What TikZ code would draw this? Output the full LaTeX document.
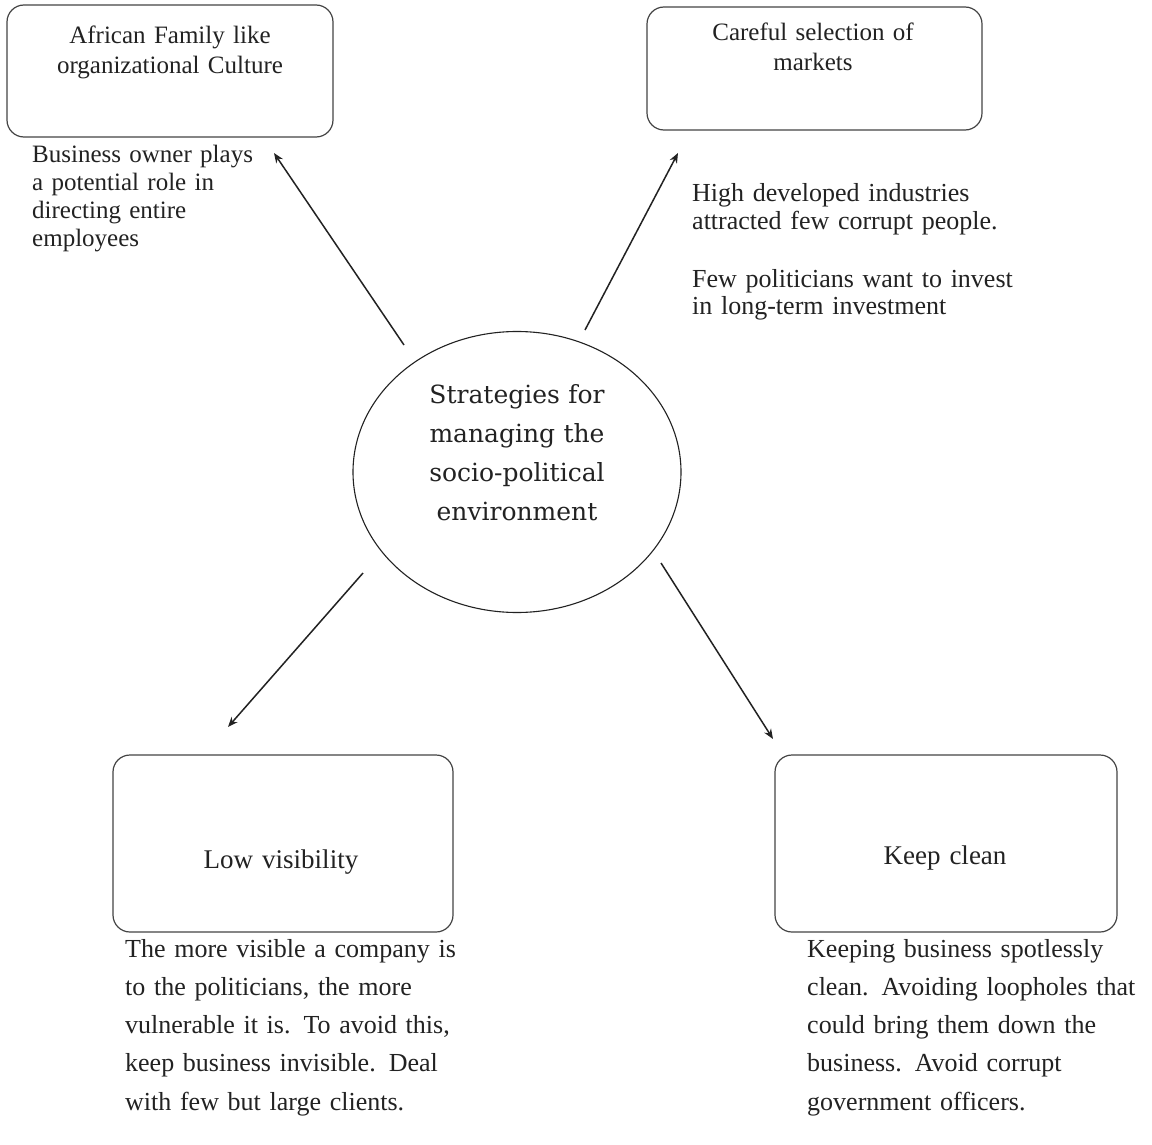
\documentclass[tikz,border=0pt]{standalone}
\usepackage{fontspec}
\setmainfont{Liberation Serif}
\newfontfamily\circfont{DejaVu Serif}
\usetikzlibrary{shapes.geometric,arrows.meta,fit}
\definecolor{ink}{HTML}{222222}
\definecolor{boxink}{HTML}{444444}
\begin{document}
\begin{tikzpicture}[x=1pt,y=-1pt,
  box/.style={draw=boxink, line width=1.2pt, rounded corners=17pt, inner sep=0pt},
  boxtxt/.style={text=ink, anchor=base, align=center, text width=330pt, inner sep=0pt, font=\fontsize{25}{30}\selectfont},
  desc/.style={text=ink, anchor=base west, align=left, text width=#1, inner sep=0pt},
  arr/.style={draw=ink, line width=1.5pt, -{Stealth[length=10pt,width=8pt]}},
  hub/.style={ellipse, draw=ink, line width=1.1pt, minimum width=328pt, minimum height=281pt, inner sep=0pt}
]
\useasboundingbox (0,0) rectangle (1152,1145);
\fill[white] (0,0) rectangle (1152,1145);

% boxes
\node[box, fit={(7,5) (333,137)}] (b1) {};
\node[box, fit={(647,7) (982,130)}] (b2) {};
\node[box, fit={(113,755) (453,932)}] (b3) {};
\node[box, fit={(775,755) (1117,932)}] (b4) {};

% box labels
\node[boxtxt] (l1) at (170,44) {African Family like\\organizational Culture};
\node[boxtxt] (l2) at (813,41) {Careful selection of\\markets};
\node[boxtxt, font=\fontsize{27}{31}\selectfont] (l3) at (281,868) {Low visibility};
\node[boxtxt, font=\fontsize{27}{31}\selectfont] (l4) at (945,864) {Keep clean};

% centre
\node[hub] (c) at (517,472) {};
\node[text=ink, anchor=base, align=center, text width=300pt, inner sep=0pt, font=\circfont\fontsize{25}{39}\selectfont] (ct) at (517,403)
  {Strategies for\\managing the\\socio-political\\environment};

% descriptions
\node[desc=300pt, font=\fontsize{25}{28}\selectfont] (d1) at (32,163)
  {Business owner plays\\a potential role in\\directing entire\\employees};
\node[desc=420pt, font=\fontsize{26}{28}\selectfont] (d2a) at (692,202)
  {High developed industries\\attracted few corrupt people.};
\node[desc=420pt, font=\fontsize{26}{28}\selectfont] (d2b) at (692,287)
  {Few politicians want to invest\\in long-term investment};
\node[desc=400pt, font=\fontsize{26}{38.3}\selectfont] (d3) at (125,957)
  {The more visible a company is\\to the politicians, the more\\vulnerable it is.  To avoid this,\\keep business invisible.  Deal\\with few but large clients.};
\node[desc=400pt, font=\fontsize{26}{38.3}\selectfont] (d4) at (807,957)
  {Keeping business spotlessly\\clean.  Avoiding loopholes that\\could bring them down the\\business.  Avoid corrupt\\government officers.};

% arrows
\coordinate (s1) at (404,345); \coordinate (t1) at (274,153);
\coordinate (s2) at (585,330); \coordinate (t2) at (678,153);
\coordinate (s3) at (363,573); \coordinate (t3) at (228,727);
\coordinate (s4) at (661,563); \coordinate (t4) at (773,739);
\draw[arr] (s1) -- (t1);
\draw[arr] (s2) -- (t2);
\draw[arr] (s3) -- (t3);
\draw[arr] (s4) -- (t4);
\end{tikzpicture}
\end{document}
